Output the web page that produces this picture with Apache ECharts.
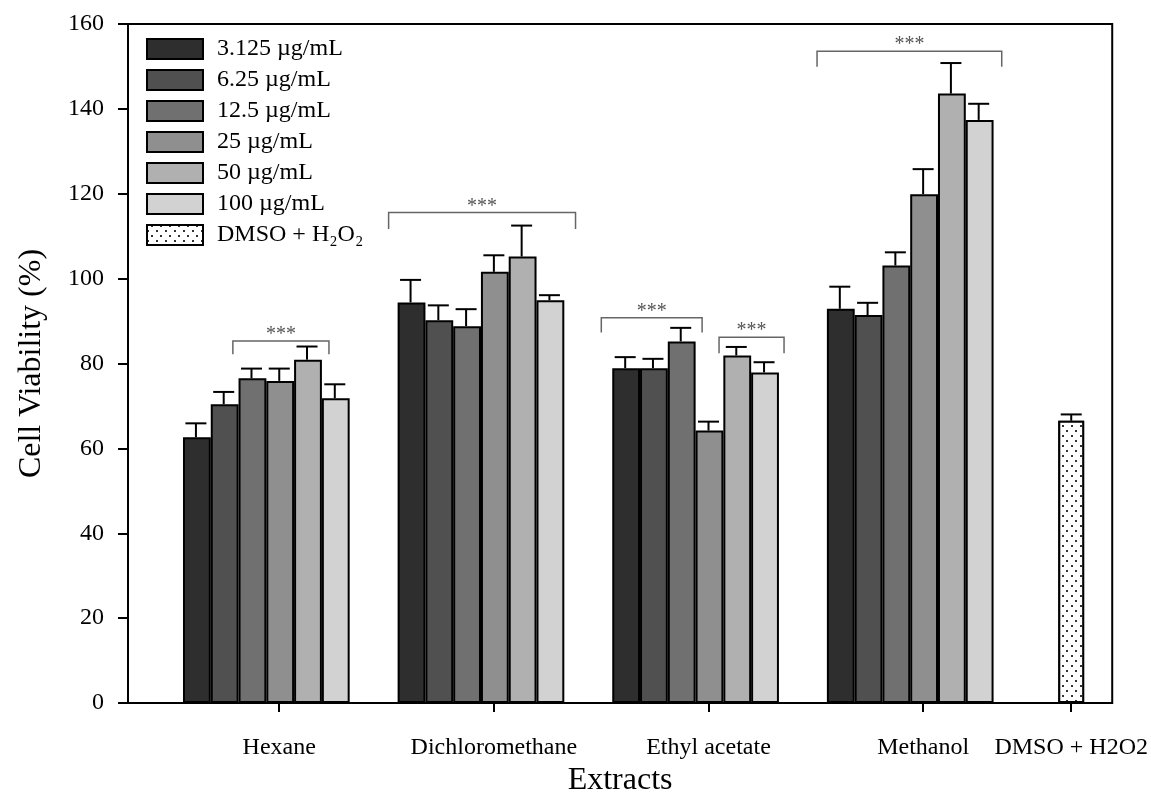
<!DOCTYPE html>
<html>
<head>
<meta charset="utf-8">
<script src="https://cdn.jsdelivr.net/npm/echarts@6/dist/echarts.min.js"></script>
<style>
  html, body { margin: 0; padding: 0; background: #fff; }
  #main { width: 1151px; height: 804px; }
</style>
</head>
<body>
<div id="main"></div>
<script>
// categories
var extracts = ['Hexane', 'Dichloromethane', 'Ethyl acetate', 'Methanol', 'DMSO + H2O2'];
var extractPos = [1, 2, 3, 4, 4.69];
var concentrations = ['3.125 µg/mL', '6.25 µg/mL', '12.5 µg/mL', '25 µg/mL', '50 µg/mL', '100 µg/mL'];
var dmsoName = 'DMSO + H₂O₂';

// mean viability per concentration (Hexane, Dichloromethane, Ethyl acetate, Methanol)
var v3125 = [62.6, 94.4, 78.9, 92.9];
var v625 = [70.4, 90.2, 78.9, 91.4];
var v125 = [76.5, 88.8, 85.2, 103.1];
var v25 = [75.9, 101.6, 64.2, 119.9];
var v50 = [80.9, 105.2, 81.9, 143.6];
var v100 = [71.8, 94.9, 77.9, 137.4];
// error (upper) per concentration
var e3125 = [3.3, 5.3, 2.6, 5.2];
var e625 = [2.9, 3.5, 2.2, 2.9];
var e125 = [2.3, 4.0, 3.2, 3.1];
var e25 = [2.9, 3.9, 2.1, 5.9];
var e50 = [3.1, 7.3, 2.0, 7.2];
var e100 = [3.3, 1.2, 2.4, 3.8];
// control
var dmso = [66.5];
var dmsoErr = [1.5];

// significance brackets: group, from slot, to slot, line value, drop value
var bracketGroup = [0, 1, 2, 2, 3];
var bracketFrom = [1.83, -0.29, -0.36, 3.88, -0.32];
var bracketTo = [5.29, 6.44, 3.27, 6.22, 6.33];
var bracketTop = [85.3, 115.6, 90.8, 86.2, 153.6];
var bracketDrop = [82.2, 111.7, 87.3, 82.4, 149.9];

var means = [v3125, v625, v125, v25, v50, v100];
var errs = [e3125, e625, e125, e25, e50, e100];
var colors = ['#2e2e2e', '#505050', '#707070', '#8f8f8f', '#b0b0b0', '#d2d2d2'];

var font = "'Liberation Serif', 'Times New Roman', serif";
var gridLeft = 128, gridRight = 37, xMin = 0.2953, xMax = 4.881;
var barW = 0.1294; // in group units
var pxPerUnit = (1151 - gridLeft - gridRight) / (xMax - xMin);

var chart = echarts.init(document.getElementById('main'));

var series = [];
var errData = [];
means.forEach(function (vals, k) {
    series.push({
        name: concentrations[k],
        type: 'bar',
        barWidth: barW * pxPerUnit,
        barGap: '-100%',
        itemStyle: {color: colors[k], borderColor: '#000', borderWidth: 2},
        data: vals.map(function (v, g) {
            return [extractPos[g] + (k - 3) * barW, v];
        })
    });
    vals.forEach(function (v, g) {
        errData.push([extractPos[g] + (k - 3) * barW, v, errs[k][g]]);
    });
});
series.push({
    name: dmsoName,
    type: 'bar',
    barWidth: barW * pxPerUnit * 0.93,
    barGap: '-100%',
    itemStyle: {
        color: '#fff', borderColor: '#000', borderWidth: 2,
        decal: {
            symbol: 'rect', symbolSize: 1, color: '#333', backgroundColor: '#fff',
            dashArrayX: [[1.5, 6.5], [0, 4, 1.5, 2.5]], dashArrayY: [1.5, 2.5], rotation: 0
        }
    },
    data: [[extractPos[4], dmso[0]]]
});
errData.push([extractPos[4], dmso[0], dmsoErr[0]]);

// error bars
series.push({
    type: 'custom',
    z: 5,
    encode: {x: 0, y: 1},
    data: errData,
    renderItem: function (params, api) {
        var base = api.coord([api.value(0), api.value(1)]);
        var top = api.coord([api.value(0), api.value(1) + api.value(2)]);
        var half = 10.5;
        return {
            type: 'group',
            children: [
                {type: 'line', shape: {x1: base[0], y1: base[1], x2: top[0], y2: top[1]}, style: {stroke: '#000', lineWidth: 2}},
                {type: 'line', shape: {x1: top[0] - half, y1: top[1], x2: top[0] + half, y2: top[1]}, style: {stroke: '#000', lineWidth: 2}}
            ]
        };
    }
});

// brackets with ***
var bracketData = bracketGroup.map(function (g, i) {
    var left = extractPos[g] - 3.5 * barW;
    return [left + bracketFrom[i] * barW, left + bracketTo[i] * barW, bracketTop[i], bracketDrop[i]];
});
series.push({
    type: 'custom',
    z: 6,
    encode: {x: [0, 1], y: [2, 3]},
    data: bracketData,
    renderItem: function (params, api) {
        var a = api.coord([api.value(0), api.value(2)]);
        var b = api.coord([api.value(1), api.value(2)]);
        var d = api.coord([api.value(0), api.value(3)]);
        return {
            type: 'group',
            children: [
                {type: 'polyline', shape: {points: [[a[0], d[1]], a, b, [b[0], d[1]]]}, style: {stroke: '#666', lineWidth: 1.5, fill: null}},
                {type: 'text', style: {text: '***', x: (a[0] + b[0]) / 2, y: a[1] - 6, align: 'center', verticalAlign: 'middle', fill: '#555', font: '20px ' + font}}
            ]
        };
    }
});

var option = {
    animation: false,
    grid: {left: gridLeft, right: gridRight, top: 24, bottom: 101, show: true, borderColor: '#000', borderWidth: 2},
    legend: {
        data: concentrations.concat([dmsoName]),
        orient: 'vertical',
        left: 141,
        top: 32,
        itemWidth: 56,
        itemHeight: 20,
        itemGap: 7,
        icon: 'rect',
        textStyle: {fontFamily: font, fontSize: 24, color: '#000', lineHeight: 24, padding: [0, 0, 0, 9]}
    },
    xAxis: {
        type: 'value',
        min: xMin,
        max: xMax,
        name: 'Extracts',
        nameLocation: 'middle',
        nameGap: 56,
        nameTextStyle: {fontFamily: font, fontSize: 32, color: '#000'},
        axisLine: {lineStyle: {color: '#000', width: 2}},
        axisTick: {customValues: extractPos, length: 9, lineStyle: {color: '#000', width: 2}},
        axisLabel: {
            customValues: extractPos,
            margin: 33,
            fontFamily: font, fontSize: 24, color: '#000',
            formatter: function (v) {
                var best = 0;
                extractPos.forEach(function (p, i) {
                    if (Math.abs(p - v) < Math.abs(extractPos[best] - v)) best = i;
                });
                return extracts[best];
            }
        },
        splitLine: {show: false}
    },
    yAxis: {
        type: 'value',
        min: 0,
        max: 160,
        interval: 20,
        name: 'Cell Viability (%)',
        nameLocation: 'middle',
        nameGap: 80,
        nameTextStyle: {fontFamily: font, fontSize: 32, color: '#000'},
        axisLine: {show: true, lineStyle: {color: '#000', width: 2}},
        axisTick: {show: true, length: 10, lineStyle: {color: '#000', width: 2}},
        axisLabel: {margin: 24, fontFamily: font, fontSize: 24, color: '#000'},
        splitLine: {show: false}
    },
    series: series
};
chart.setOption(option);
</script>
</body>
</html>
